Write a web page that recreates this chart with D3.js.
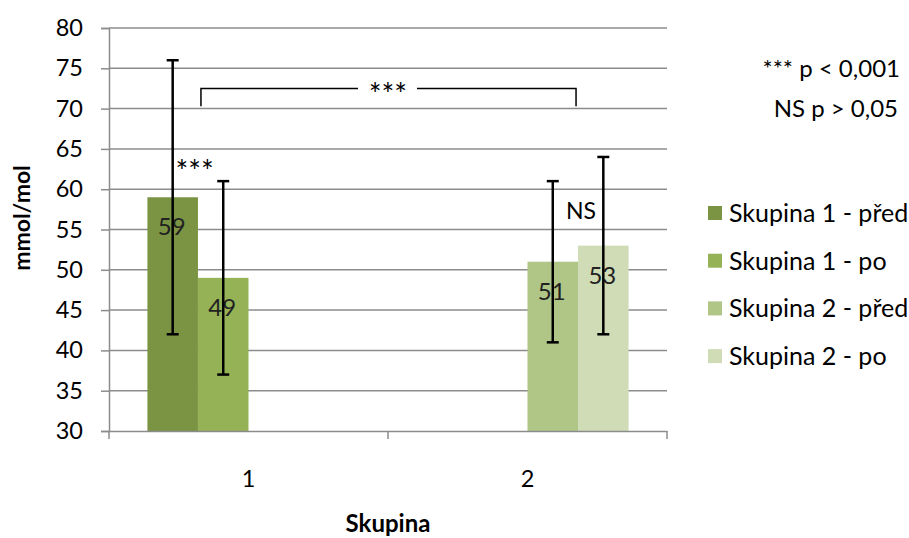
<!DOCTYPE html>
<html>
<head>
<meta charset="utf-8">
<script src="https://cdn.jsdelivr.net/npm/d3@7"></script>
<style>
  body { margin: 0; background: #fff; }
  text { font-family: Lato, "Open Sans", sans-serif; fill: #000; }
</style>
</head>
<body>
<div id="chart"></div>
<script>
// Data
const categories = ["1", "2"];
const seriesNames = ["Skupina 1 - před", "Skupina 1 - po", "Skupina 2 - před", "Skupina 2 - po"];
const seriesColors = ["#7a9443", "#95b356", "#afc687", "#d0dcb6"];
// one row per category, null where the series has no bar
const means = [[59, 49, null, null], [null, null, 51, 53]];
const errLow = [[42, 37, null, null], [null, null, 41, 42]];
const errHigh = [[76, 61, null, null], [null, null, 61, 64]];
const yTicks = [30, 35, 40, 45, 50, 55, 60, 65, 70, 75, 80];

// Chart dimensions
const width = 909, height = 538;
const margin = { top: 28, right: 242, bottom: 107, left: 109 };
const plotW = width - margin.left - margin.right;
const plotH = height - margin.top - margin.bottom;

const svg = d3.select("#chart").append("svg")
  .attr("width", width).attr("height", height);
const g = svg.append("g")
  .attr("transform", `translate(${margin.left},${margin.top})`);

const x = d3.scaleBand().domain(categories).range([0, plotW]).padding(0);
const xs = d3.scaleBand().domain(seriesNames).range([0, x.bandwidth()])
  .paddingInner(0).paddingOuter(0.76);
const y = d3.scaleLinear().domain([30, 80]).range([plotH, 0]);

// gridlines
g.append("g").selectAll("line").data(yTicks.slice(1)).join("line")
  .attr("x1", 0).attr("x2", plotW)
  .attr("y1", d => y(d)).attr("y2", d => y(d))
  .attr("stroke", "#8c8c8c").attr("stroke-width", 1.5);

// flatten bars
const bars = [];
categories.forEach((c, ci) => {
  seriesNames.forEach((s, si) => {
    if (means[ci][si] != null) {
      bars.push({ cat: c, series: s, color: seriesColors[si],
        v: means[ci][si], lo: errLow[ci][si], hi: errHigh[ci][si] });
    }
  });
});
const cx = d => x(d.cat) + xs(d.series) + xs.bandwidth() / 2;

g.append("g").selectAll("rect").data(bars).join("rect")
  .attr("x", d => x(d.cat) + xs(d.series))
  .attr("width", xs.bandwidth())
  .attr("y", d => y(d.v))
  .attr("height", d => y(30) - y(d.v))
  .attr("fill", d => d.color);

// value labels
g.append("g").selectAll("text").data(bars).join("text")
  .attr("x", d => cx(d) - 1).attr("y", d => y(d.v) + 38)
  .attr("text-anchor", "middle")
  .style("font-size", "24px").style("fill", "#222")
  .text(d => d.v);

// axes
const yAxis = g.append("g").call(d3.axisLeft(y).tickValues(yTicks).tickSize(8).tickPadding(18));
yAxis.select(".domain").attr("stroke", "#8c8c8c").attr("stroke-width", 1.5);
yAxis.selectAll(".tick line").attr("stroke", "#8c8c8c").attr("stroke-width", 1.5);
yAxis.selectAll(".tick text").style("font-size", "23.5px").style("font-family", "Lato, sans-serif").attr("fill", "#000");

const xAxis = g.append("g").attr("transform", `translate(0,${plotH})`)
  .call(d3.axisBottom(x).tickSize(0).tickPadding(39));
xAxis.select(".domain").attr("stroke", "#8c8c8c").attr("stroke-width", 1.5);
xAxis.selectAll(".tick text").style("font-size", "23.5px").style("font-family", "Lato, sans-serif").attr("fill", "#000");
// category boundary ticks
g.append("g").selectAll("line").data([0, 1, 2]).join("line")
  .attr("x1", i => i * x.step()).attr("x2", i => i * x.step())
  .attr("y1", plotH).attr("y2", plotH + 8)
  .attr("stroke", "#8c8c8c").attr("stroke-width", 1.5);

// error bars
const eb = g.append("g").attr("stroke", "#000").attr("stroke-width", 2.5);
eb.selectAll(".v").data(bars).join("line").attr("class", "v")
  .attr("x1", cx).attr("x2", cx).attr("y1", d => y(d.hi)).attr("y2", d => y(d.lo));
eb.selectAll(".t").data(bars).join("line").attr("class", "t")
  .attr("x1", d => cx(d) - 6).attr("x2", d => cx(d) + 6)
  .attr("y1", d => y(d.hi)).attr("y2", d => y(d.hi));
eb.selectAll(".b").data(bars).join("line").attr("class", "b")
  .attr("x1", d => cx(d) - 6).attr("x2", d => cx(d) + 6)
  .attr("y1", d => y(d.lo)).attr("y2", d => y(d.lo));

// significance annotations
const bx1 = x("1") + xs(seriesNames[1]) + 3;
const bx2 = x("2") + xs(seriesNames[3]) - 2;
const bTop = y(72.5), bBot = y(70.3);
const midX = plotW / 2;
const br = g.append("g").attr("stroke", "#000").attr("stroke-width", 1.5).attr("fill", "none");
br.append("path").attr("d", `M${bx1},${bBot}V${bTop}H${midX - 30}`);
br.append("path").attr("d", `M${midX + 29},${bTop}H${bx2}V${bBot}`);
g.append("text").attr("x", midX).attr("y", bTop + 17).attr("text-anchor", "middle")
  .style("font-size", "30px").text("***");
g.append("text").attr("x", x("1") + xs(seriesNames[0]) + xs.bandwidth() / 2 + 22).attr("y", y(61) + 1)
  .attr("text-anchor", "middle").style("font-size", "30px").text("***");
g.append("text").attr("x", x("2") + xs(seriesNames[2]) + xs.bandwidth() + 3).attr("y", y(56.3))
  .attr("text-anchor", "middle").style("font-size", "23px").text("NS");

svg.append("text").attr("x", 900).attr("y", 77).attr("text-anchor", "end")
  .style("font-size", "24px").text("*** p < 0,001");
svg.append("text").attr("x", 898).attr("y", 117).attr("text-anchor", "end")
  .style("font-size", "24px").text("NS p > 0,05");

// axis titles
svg.append("text").attr("transform", "translate(30,218) rotate(-90)")
  .attr("text-anchor", "middle").style("font-size", "23px").style("font-weight", "bold")
  .text("mmol/mol");
svg.append("text").attr("x", margin.left + plotW / 2).attr("y", 532)
  .attr("text-anchor", "middle").style("font-size", "24px").style("font-weight", "bold")
  .text("Skupina");

// legend
const legend = svg.append("g").attr("transform", "translate(708,206)");
const li = legend.selectAll("g").data(seriesNames).join("g")
  .attr("transform", (d, i) => `translate(0,${i * 47.7})`);
li.append("rect").attr("width", 14).attr("height", 14)
  .attr("fill", (d, i) => seriesColors[i]);
li.append("text").attr("x", 21).attr("y", 16).style("font-size", "25px").text(d => d);
</script>
</body>
</html>
